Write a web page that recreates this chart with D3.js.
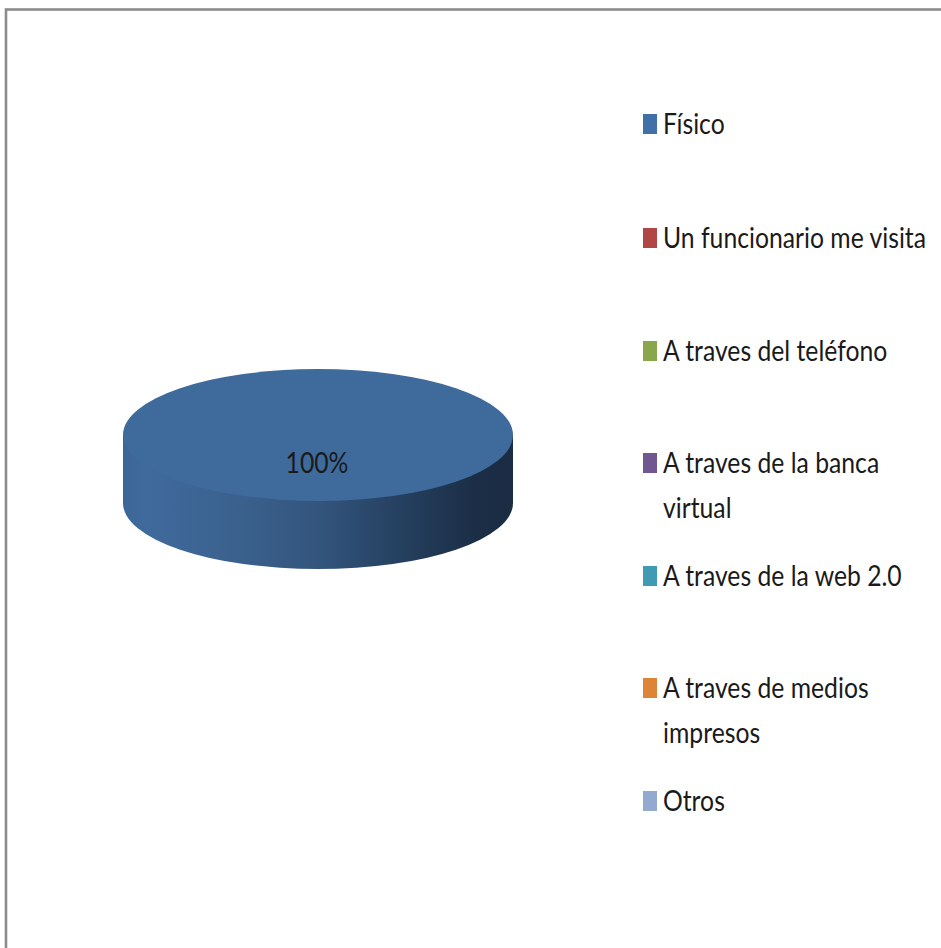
<!DOCTYPE html>
<html><head><meta charset="utf-8">
<script src="https://cdnjs.cloudflare.com/ajax/libs/d3/7.8.5/d3.min.js"></script>
<style>html,body{margin:0;padding:0;background:#fff;overflow:hidden}svg{display:block}
text{font-family:"Lato","Liberation Sans",sans-serif;fill:#1a1a1a}</style>
</head><body><svg id="c" width="941" height="948"></svg>
<script>
const categories=["Físico","Un funcionario me visita","A traves del teléfono","A traves de la banca virtual","A traves de la web 2.0","A traves de medios impresos","Otros"];
const values=[100,0,0,0,0,0,0];
const colors=["#4170a8","#b04745","#8aa64b","#71578f","#3f9bb3","#dd8439","#93a9cf"];
const legendLines=[["Físico"],["Un funcionario me visita"],["A traves del teléfono"],["A traves de la banca","virtual"],["A traves de la web 2.0"],["A traves de medios","impresos"],["Otros"]];
const rowCenters=[124,238,351,463,576,688,801];

const svg=d3.select("#c");
svg.append("rect").attr("x",6).attr("y",9.5).attr("width",960).attr("height",960)
  .attr("fill","#fff").attr("stroke","#8c8c8c").attr("stroke-width",2.6);

const rx=195, ry=66, depth=68, cx=318, cy=435;
const defs=svg.append("defs");
const g=defs.append("linearGradient").attr("id","side").attr("x1",0).attr("x2",1).attr("y1",0).attr("y2",0);
[[0,"#3c6697"],[0.06,"#3f6a9c"],[0.25,"#3c6390"],[0.5,"#33557e"],[0.75,"#233c5a"],[0.9,"#1b2e46"],[1,"#1a2c42"]]
  .forEach(s=>g.append("stop").attr("offset",s[0]).attr("stop-color",s[1]));

const pie=d3.pie().sort(null)(values);
const arc=d3.arc().innerRadius(0).outerRadius(rx);
const slices=pie.filter(d=>d.value>0);
const sideG=svg.append("g");
sideG.append("rect").attr("x",cx-rx).attr("y",cy).attr("width",rx*2).attr("height",depth).attr("fill","url(#side)");
sideG.selectAll("path.s").data(slices).join("path").attr("class","s").attr("d",arc)
  .attr("transform",`translate(${cx},${cy+depth}) scale(1,${ry/rx})`).attr("fill","url(#side)");
svg.selectAll("path.t").data(slices).join("path").attr("class","t").attr("d",arc)
  .attr("transform",`translate(${cx},${cy}) scale(1,${ry/rx})`).attr("fill","#3f6a9c");

const fs=29.5;
// horizontal squeeze so the longest legend line spans the same width as the reference
const probe=svg.append("text").attr("font-size",fs).text(categories[1]);
const sx=263/probe.node().getComputedTextLength();
probe.remove();

svg.append("text").attr("text-anchor","middle").attr("font-size",fs)
  .attr("transform",`translate(317,473) scale(${sx},1)`).text(d3.format(".0%")(values[0]/100));

const leg=svg.append("g");
categories.forEach((c,i)=>{
  const y=rowCenters[i];
  leg.append("rect").attr("x",643).attr("y",y-10).attr("width",14).attr("height",20).attr("fill",colors[i]);
  legendLines[i].forEach((l,j)=>{
    leg.append("text").attr("font-size",fs)
      .attr("transform",`translate(663,${y+10+j*45}) scale(${sx},1)`).text(l);
  });
});
</script></body></html>
